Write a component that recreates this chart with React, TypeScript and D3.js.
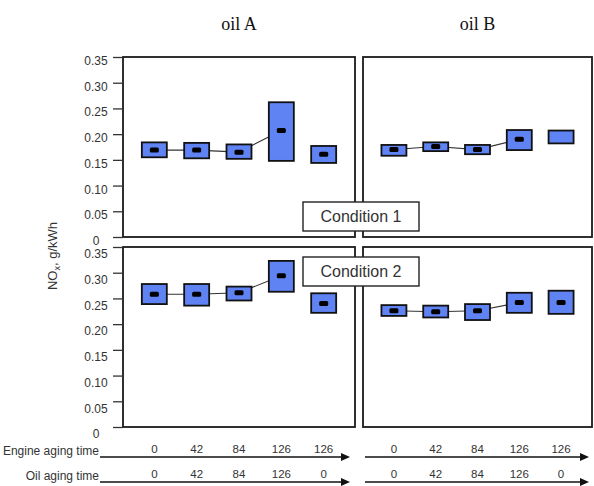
import React, { useEffect, useRef } from 'react';
import * as d3 from 'd3';

const engineAging = [0, 42, 84, 126, 126];
const oilAging = [0, 42, 84, 126, 0];
const oils = ['oil A', 'oil B'];
const conditions = ['Condition 1', 'Condition 2'];
const yTicks = [0, 0.05, 0.1, 0.15, 0.2, 0.25, 0.3, 0.35];

// condition 1
const c1aLow = [0.155, 0.153, 0.152, 0.148, 0.144];
const c1aHigh = [0.184, 0.183, 0.18, 0.262, 0.177];
const c1aMean = [0.169, 0.169, 0.165, 0.207, 0.161];
const c1bLow = [0.158, 0.167, 0.161, 0.169, 0.182];
const c1bHigh = [0.179, 0.184, 0.179, 0.208, 0.207];
const c1bMean = [0.17, 0.176, 0.17, 0.19, null];

// condition 2
const c2aLow = [0.239, 0.236, 0.246, 0.263, 0.222];
const c2aHigh = [0.278, 0.278, 0.273, 0.323, 0.26];
const c2aMean = [0.258, 0.258, 0.261, 0.294, 0.24];
const c2bLow = [0.216, 0.213, 0.208, 0.222, 0.22];
const c2bHigh = [0.237, 0.236, 0.239, 0.261, 0.265];
const c2bMean = [0.226, 0.224, 0.226, 0.242, 0.242];

const width = 594;
const height = 486;
const colX = [[123, 355], [363, 592]];
const rowY = [[57, 237], [247, 427]];
const labelBoxY = [202, 257];
const font = 'Liberation Sans, Arial, sans-serif';
const boxFill = '#5f83f3';

const panels = [
    { row: 0, col: 0, low: c1aLow, high: c1aHigh, mean: c1aMean },
    { row: 0, col: 1, low: c1bLow, high: c1bHigh, mean: c1bMean },
    { row: 1, col: 0, low: c2aLow, high: c2aHigh, mean: c2aMean },
    { row: 1, col: 1, low: c2bLow, high: c2bHigh, mean: c2bMean },
];

export default function App() {
    const svgRef = useRef<SVGSVGElement>(null);

    useEffect(() => {
        const svg = d3.select(svgRef.current);
        svg.selectAll('*').remove();

        const xScales = colX.map(([a, b]) =>
            d3.scalePoint<number>().domain(d3.range(5)).range([a, b]).padding(0.74)
        );
        const yScales = rowY.map(([top, bottom]) =>
            d3.scaleLinear().domain([0, 0.35]).range([bottom, top])
        );

        // column headers
        svg.selectAll('text.head')
            .data(oils)
            .join('text')
            .attr('class', 'head')
            .attr('x', (d, i) => (colX[i][0] + colX[i][1]) / 2)
            .attr('y', 30)
            .attr('text-anchor', 'middle')
            .attr('font-family', 'Liberation Serif, Times New Roman, serif')
            .attr('font-size', 18)
            .attr('fill', '#111')
            .text(d => d);

        panels.forEach(p => {
            const x = xScales[p.col];
            const y = yScales[p.row];
            const g = svg.append('g');

            g.append('rect')
                .attr('x', colX[p.col][0])
                .attr('y', rowY[p.row][0])
                .attr('width', colX[p.col][1] - colX[p.col][0])
                .attr('height', rowY[p.row][1] - rowY[p.row][0])
                .attr('fill', 'none')
                .attr('stroke', '#1a1a1a')
                .attr('stroke-width', 1.8);

            if (p.col === 0) {
                const ax = g.append('g')
                    .attr('transform', `translate(${colX[0][0]},0)`)
                    .call(d3.axisLeft(y).tickValues(yTicks).tickSize(10)
                        .tickFormat(d => (+d === 0 ? '0' : d3.format('.2f')(+d))));
                ax.select('.domain').remove();
                ax.selectAll('line').attr('stroke', '#333').attr('stroke-width', 1.3);
                ax.selectAll('text')
                    .attr('x', -27)
                    .attr('dy', p.row === 0 ? '0.62em' : '0.9em')
                    .attr('text-anchor', 'middle')
                    .attr('font-family', font)
                    .attr('font-size', 12)
                    .attr('fill', '#333');
            }

            const idx = d3.range(4).filter(i => p.mean[i] != null);
            const line = d3.line<number>().x(i => x(i)).y(i => y(p.mean[i]));
            g.append('path')
                .attr('d', line(idx))
                .attr('fill', 'none')
                .attr('stroke', '#333')
                .attr('stroke-width', 1.1);

            g.selectAll('rect.box')
                .data(d3.range(5))
                .join('rect')
                .attr('class', 'box')
                .attr('x', i => x(i) - 12.5)
                .attr('y', i => y(p.high[i]))
                .attr('width', 25)
                .attr('height', i => y(p.low[i]) - y(p.high[i]))
                .attr('fill', boxFill)
                .attr('stroke', '#111')
                .attr('stroke-width', 1.8);

            g.selectAll('rect.mean')
                .data(d3.range(5).filter(i => p.mean[i] != null))
                .join('rect')
                .attr('class', 'mean')
                .attr('x', i => x(i) - 4.5)
                .attr('y', i => y(p.mean[i]) - 2.5)
                .attr('width', 9)
                .attr('height', 5)
                .attr('rx', 1.5)
                .attr('fill', '#000');
        });

        // condition labels
        conditions.forEach((c, i) => {
            svg.append('rect')
                .attr('x', 303)
                .attr('y', labelBoxY[i])
                .attr('width', 116)
                .attr('height', 29)
                .attr('fill', '#fff')
                .attr('stroke', '#222')
                .attr('stroke-width', 1.4);
            svg.append('text')
                .attr('x', 361)
                .attr('y', labelBoxY[i] + 20)
                .attr('text-anchor', 'middle')
                .attr('font-family', font)
                .attr('font-size', 16)
                .attr('fill', '#333')
                .text(c);
        });

        // y title
        const title = svg.append('text')
            .attr('transform', 'translate(57,256) rotate(-90)')
            .attr('text-anchor', 'middle')
            .attr('font-family', font)
            .attr('font-size', 13)
            .attr('fill', '#333');
        title.append('tspan').text('NO');
        title.append('tspan').attr('font-size', 9).attr('dy', 3).text('x');
        title.append('tspan').attr('dy', -3).text(', g/kWh');

        // aging time rows
        const rows = [
            { label: 'Engine aging time', values: engineAging, base: 455 },
            { label: 'Oil aging time', values: oilAging, base: 480 },
        ];
        rows.forEach(r => {
            svg.append('text')
                .attr('x', 99)
                .attr('y', r.base)
                .attr('text-anchor', 'end')
                .attr('font-family', font)
                .attr('font-size', 12)
                .attr('fill', '#333')
                .text(r.label);
            const segs = [[100, 350], [365, 589]];
            segs.forEach(([a, b], k) => {
                svg.append('line')
                    .attr('x1', a).attr('x2', b - 7)
                    .attr('y1', r.base + 2).attr('y2', r.base + 2)
                    .attr('stroke', '#111')
                    .attr('stroke-width', 1.6);
                svg.append('path')
                    .attr('d', `M${b},${r.base + 2}L${b - 9},${r.base - 2}L${b - 9},${r.base + 6}Z`)
                    .attr('fill', '#111');
                svg.append('g')
                    .selectAll('text')
                    .data(r.values)
                    .join('text')
                    .attr('x', (d, i) => xScales[k](i))
                    .attr('y', r.base - 2)
                    .attr('text-anchor', 'middle')
                    .attr('font-family', font)
                    .attr('font-size', 11.5)
                    .attr('fill', '#333')
                    .text(d => d);
            });
        });
    }, []);

    return (
        <svg
            ref={svgRef}
            width={width}
            height={height}
            style={{ position: 'absolute', left: 0, top: 0, background: '#fff' }}
        ></svg>
    );
}
